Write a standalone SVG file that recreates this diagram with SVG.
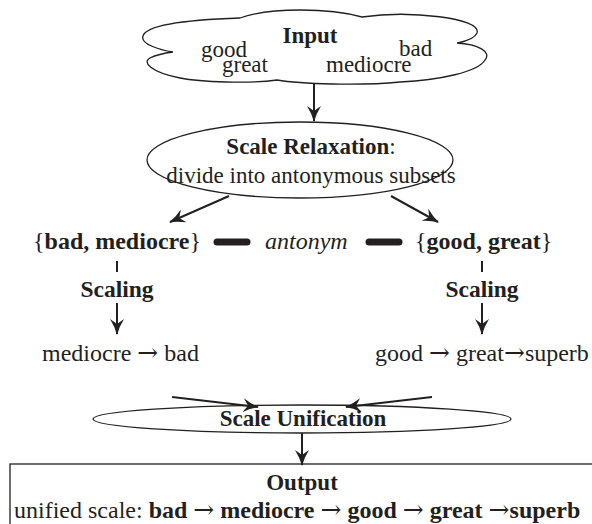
<svg xmlns="http://www.w3.org/2000/svg" width="592" height="524" viewBox="0 0 592 524">
<style>
text{font-family:"Liberation Serif","Times New Roman",serif;font-size:23px;fill:#231f20}
.b{font-weight:bold}
.i{font-style:italic}
.m{text-anchor:middle}
.lg{font-size:24px}
.ar{font-family:"DejaVu Serif",serif;font-size:25px;font-weight:normal}
.shape{fill:#fff;stroke:#231f20;stroke-width:1.3}
.ln{stroke:#231f20;stroke-width:2;fill:none}
.thick{stroke:#231f20;stroke-width:7;stroke-linecap:round}
</style>
<defs>
<marker id="ah" markerUnits="userSpaceOnUse" markerWidth="16" markerHeight="14" viewBox="0 0 16 14" refX="15" refY="7" orient="auto">
<path d="M0,0 Q8,5 16,7 Q8,9 0,14 L5,7 Z" fill="#231f20"/>
</marker>
</defs>
<rect width="592" height="524" fill="#fff"/>
<g id="input">
<path class="shape" d="M240,18 C270,7 330,8 362,17 C410,10 482,18 477,33 C474,40 462,42 457,43 C478,44 492,52 485,60 C478,72 440,80 400,82 C360,86 300,84 277,80 C250,84 200,82 180,78 C150,72 142,62 150,58 C156,55 165,53 173,52 C160,50 140,44 143,36 C146,26 180,20 240,18 Z"/>
<text class="b m" x="310" y="43">Input</text>
<text x="201" y="57">good</text>
<text x="222" y="72">great</text>
<text x="326" y="72">mediocre</text>
<text x="399" y="56">bad</text>
</g>
<g id="relaxation">
<ellipse class="shape" cx="300" cy="160" rx="153" ry="38"/>
<text class="m" x="311" y="154"><tspan class="b">Scale Relaxation</tspan>:</text>
<text class="m" x="311" y="183">divide into antonymous subsets</text>
</g>
<g id="set-left">
<text class="lg" x="33" y="249">{<tspan class="b">bad, mediocre</tspan>}</text>
</g>
<g id="antonym">
<text class="i lg" x="265" y="249">antonym</text>
</g>
<g id="set-right">
<text class="lg" x="415" y="249">{<tspan class="b">good, great</tspan>}</text>
</g>
<g id="scaling-left">
<text class="b m" x="117" y="297" style="font-size:23.5px">Scaling</text>
</g>
<g id="scaling-right">
<text class="b m" x="482" y="297" style="font-size:23.5px">Scaling</text>
</g>
<g id="scale-left">
<text class="lg" x="42" y="361">mediocre <tspan class="ar">→</tspan> bad</text>
</g>
<g id="scale-right">
<text class="lg" x="375" y="361">good <tspan class="ar">→</tspan> great<tspan class="ar">→</tspan>superb</text>
</g>
<g id="unification">
<ellipse class="shape" cx="302" cy="419" rx="209" ry="14"/>
<text class="b m" x="303" y="426">Scale Unification</text>
</g>
<g id="output">
<rect class="shape" x="10" y="464" width="600" height="80"/>
<text class="b m" x="302" y="490">Output</text>
<text class="lg" x="14" y="518">unified scale: <tspan class="b">bad <tspan class="ar">→</tspan> mediocre <tspan class="ar">→</tspan> good <tspan class="ar">→</tspan> great <tspan class="ar">→</tspan>superb</tspan></text>
</g>
<g id="connectors">
<line class="ln" x1="314" y1="84" x2="314" y2="121" marker-end="url(#ah)"/>
<line class="ln" x1="229" y1="196" x2="170" y2="222" marker-end="url(#ah)"/>
<line class="ln" x1="391" y1="196" x2="438" y2="222" marker-end="url(#ah)"/>
<line class="ln" x1="117" y1="261" x2="117" y2="272"/>
<line class="ln" x1="482" y1="261" x2="482" y2="272"/>
<line class="ln" x1="117" y1="303" x2="117" y2="334" marker-end="url(#ah)"/>
<line class="ln" x1="482" y1="303" x2="482" y2="334" marker-end="url(#ah)"/>
<line class="ln" x1="172" y1="397" x2="258" y2="407" marker-end="url(#ah)"/>
<line class="ln" x1="432" y1="397" x2="346" y2="407" marker-end="url(#ah)"/>
<line class="ln" x1="302" y1="433" x2="302" y2="465" marker-end="url(#ah)"/>
<line class="thick" x1="217" y1="242" x2="247" y2="242"/>
<line class="thick" x1="369" y1="242" x2="399" y2="242"/>
</g>
</svg>
